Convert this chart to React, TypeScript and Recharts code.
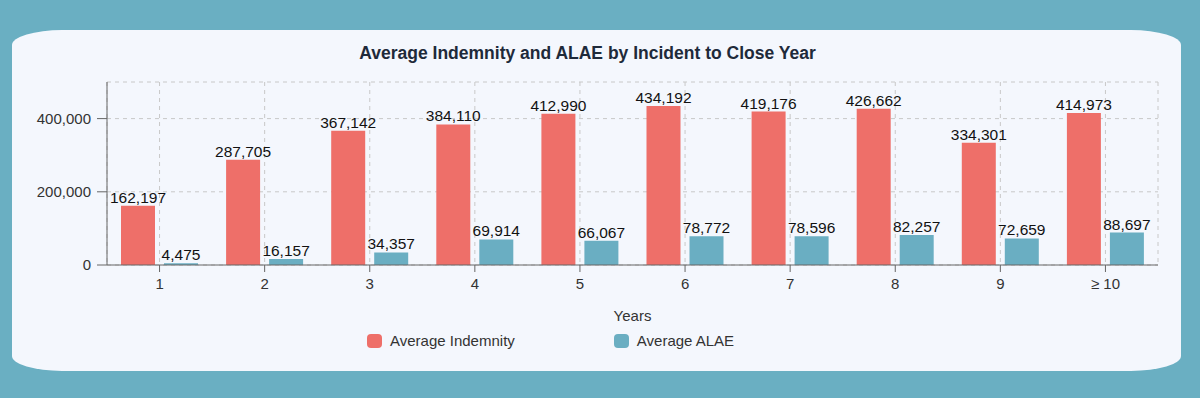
import React from "react";
import {
  BarChart,
  Bar,
  XAxis,
  YAxis,
  CartesianGrid,
  Legend,
  LabelList,
} from "recharts";

const years = ["1", "2", "3", "4", "5", "6", "7", "8", "9", "≥ 10"];
const indemnity = [162197, 287705, 367142, 384110, 412990, 434192, 419176, 426662, 334301, 414973];
const alae = [4475, 16157, 34357, 69914, 66067, 78772, 78596, 82257, 72659, 88697];
const yTicks = [0, 200000, 400000];

const RED = "#ee6f69";
const TEAL = "#6aaec2";

const data = years.map((year, i) => ({
  year,
  indemnity: indemnity[i],
  alae: alae[i],
}));

const fmt = (v: number) => v.toLocaleString("en-US");

function LegendBox() {
  const items = [
    { label: "Average Indemnity", color: RED },
    { label: "Average ALAE", color: TEAL },
  ];
  return (
    <div style={{ display: "flex", alignItems: "center" }}>
      {items.map((it, i) => (
        <div
          key={it.label}
          style={{
            display: "flex",
            alignItems: "center",
            marginRight: i === 0 ? 99 : 0,
          }}
        >
          <span
            style={{
              width: 15,
              height: 14,
              borderRadius: 4,
              background: it.color,
              marginRight: 8,
              display: "inline-block",
            }}
          />
          <span style={{ fontSize: 15, color: "#333" }}>{it.label}</span>
        </div>
      ))}
    </div>
  );
}

export default function App() {
  return (
    <div
      style={{
        position: "fixed",
        left: 0,
        top: 0,
        width: 1200,
        height: 398,
        background: "#6aafc2",
        fontFamily: "'Liberation Sans', Arial, sans-serif",
        overflow: "hidden",
      }}
    >
      <div
        style={{
          position: "absolute",
          left: 12,
          top: 30,
          width: 1169,
          height: 341,
          background: "#f4f7fd",
          borderRadius: "50px / 15px",
        }}
      />
      <div
        style={{
          position: "absolute",
          left: 3,
          top: 43,
          width: 1169,
          textAlign: "center",
          fontSize: 17.5,
          fontWeight: "bold",
          color: "#1e2a3a",
        }}
      >
        Average Indemnity and ALAE by Incident to Close Year
      </div>
      <div style={{ position: "absolute", left: 0, top: 0 }}>
        <BarChart
          width={1200}
          height={398}
          data={data}
          margin={{ top: 82, right: 42, left: 40, bottom: 58 }}
          barSize={34}
          barGap={9}
        >
          <CartesianGrid stroke="#c8c8c8" strokeDasharray="4 4" />
          <XAxis
            dataKey="year"
            height={58}
            tickSize={7}
            tickMargin={6}
            stroke="#666"
            tick={{ fill: "#333", fontSize: 15 }}
            label={{
              value: "Years",
              position: "insideBottom",
              offset: 2,
              fill: "#333",
              fontSize: 15,
            }}
          />
          <YAxis
            width={67}
            domain={[0, 500000]}
            ticks={yTicks}
            tickFormatter={fmt}
            tickSize={10}
            tickMargin={6}
            stroke="#666"
            tick={{ fill: "#333", fontSize: 15 }}
          />
          <Legend
            content={<LegendBox />}
            wrapperStyle={{ position: "absolute", left: 367, top: 332, width: 500 }}
          />
          <Bar dataKey="indemnity" name="Average Indemnity" fill={RED} isAnimationActive={false}>
            <LabelList dataKey="indemnity" position="top" offset={3} formatter={fmt} fill="#111" fontSize={15.5} />
          </Bar>
          <Bar dataKey="alae" name="Average ALAE" fill={TEAL} isAnimationActive={false}>
            <LabelList dataKey="alae" position="top" offset={3} formatter={fmt} fill="#111" fontSize={15.5} />
          </Bar>
        </BarChart>
      </div>
    </div>
  );
}
